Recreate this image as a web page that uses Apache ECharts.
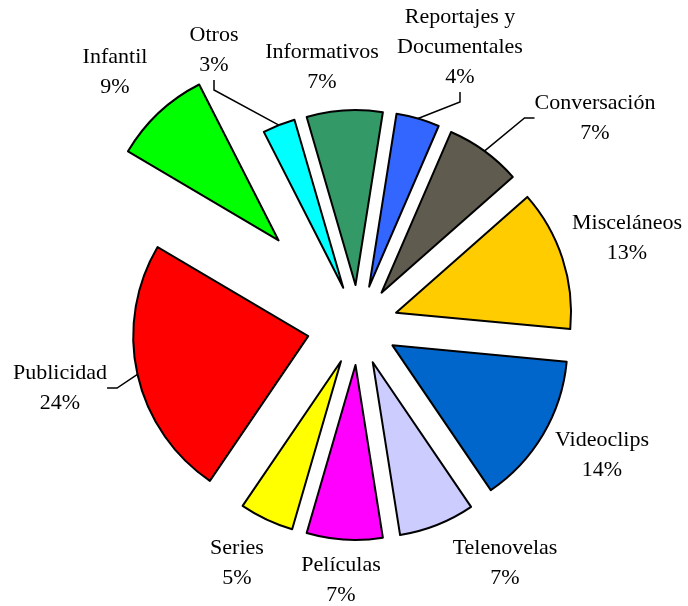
<!DOCTYPE html>
<html lang="es">
<head>
<meta charset="UTF-8">
<title>Pie</title>
<script src="https://cdn.jsdelivr.net/npm/echarts@6/dist/echarts.min.js"></script>
</head>
<body style="margin:0">
<div id="main" style="width:688px;height:606px"></div>
<script>
let names=['Otros','Informativos','Reportajes y\nDocumentales','Conversación','Misceláneos','Videoclips','Telenovelas','Películas','Series','Publicidad','Infantil']
let values=[3,7,4,7,13,14,7,7,5,24,9]
let colors=['#00ffff','#339966','#3366ff','#5f5b4f','#ffcc00','#0066cc','#ccccff','#ff00ff','#ffff00','#ff0000','#00ff00']
// how far each slice is pulled out (px)
let explode=[40,40,40,40,40,40,40,40,40,51,116]
// label centres
let labelPos=[[214,50],[322,67],[460,47],[595,118],[627,238],[602,455],[505,563],[341,580],[237,563],[60,388],[115,72]]
let withLine=['Otros','Reportajes y\nDocumentales','Conversación','Publicidad']

let cx=358,cy=325,startAngle=117
let total=values.reduce(function(a,b){return a+b},0)
let mycharts=echarts.init(document.getElementById('main'))

// one pie per slice, moved out along the slice's middle direction
let acc=0
let series=names.map(function(name,k){
	let mid=(90-startAngle+(acc+values[k]/2)/total*360)*Math.PI/180
	acc+=values[k]
	return {
		type:'pie',
		center:[cx+explode[k]*Math.sin(mid),cy-explode[k]*Math.cos(mid)],
		radius:175,
		startAngle:startAngle,
		clockwise:true,
		silent:true,
		avoidLabelOverlap:false,
		label:{
			position:'outside',
			formatter:'{b}\n{c}%',
			fontFamily:'Liberation Serif',
			fontSize:22,
			lineHeight:30,
			color:'#000'
		},
		labelLine:{
			length:10,
			length2:10,
			lineStyle:{color:'#000',width:1.5}
		},
		labelLayout:function(p){
			let pos=labelPos[p.dataIndex]
			return {x:pos[0],y:pos[1],align:'center',verticalAlign:'middle'}
		},
		data:names.map(function(n,i){
			let on=i===k
			return {
				name:n,
				value:values[i],
				itemStyle:on?{color:colors[i],borderColor:'#000',borderWidth:2}:{color:'rgba(0,0,0,0)',borderWidth:0},
				label:{show:on},
				labelLine:{show:on&&withLine.indexOf(n)>=0}
			}
		})
	}
})
mycharts.setOption({
	animation:false,
	backgroundColor:'#fff',
	series:series
})
</script>
</body>
</html>
